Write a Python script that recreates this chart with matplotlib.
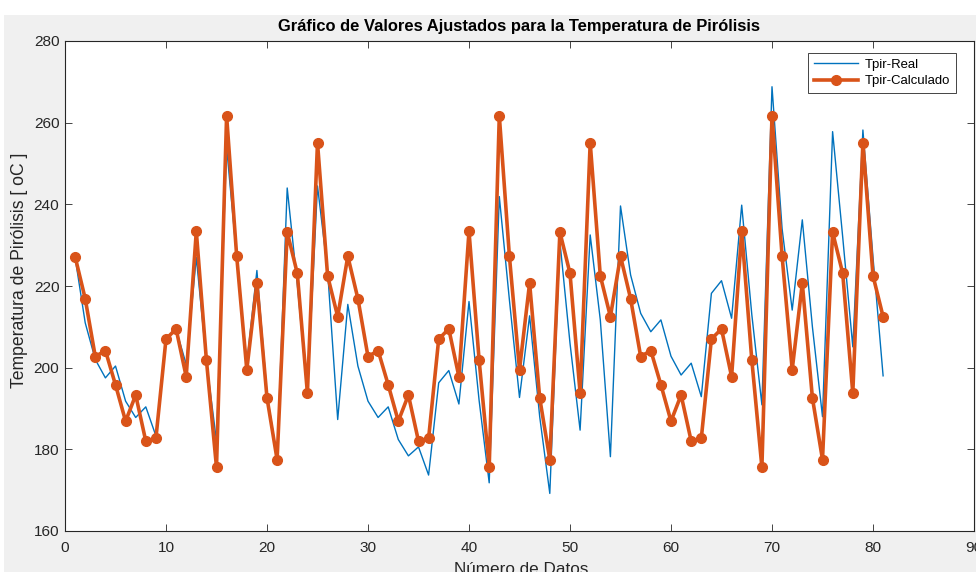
import matplotlib
matplotlib.use("Agg")
import matplotlib.pyplot as plt
from matplotlib.patches import Rectangle
from matplotlib import font_manager

_names = {f.name for f in font_manager.fontManager.ttflist}
if 'Liberation Sans Narrow' in _names:
    FAM = 'Liberation Sans Narrow'
    K = 1.0
else:
    FAM = 'Liberation Sans'
    K = 0.82
plt.rcParams['font.family'] = [FAM, 'DejaVu Sans']

datos = list(range(1, 82))

tpir_real = [227, 211, 202, 197.5, 200.4, 191.8, 187.8, 190.4, 183.3, 206.9,
             209.4, 200.8, 227, 201.6, 182, 254, 227, 201, 223.8, 193.5,
             178, 244, 220.4, 193.7, 244.5, 223.7, 187.3, 215.5, 200.4, 191.8,
             187.8, 190.4, 182.4, 178.4, 180.6, 173.7, 196.3, 199.3, 191.1, 216.2,
             192, 171.8, 241.9, 216.6, 192.7, 212.7, 188, 169.2, 230.9, 206,
             184.7, 232.5, 211.7, 178.2, 239.6, 222.7, 213.3, 208.8, 211.7, 202.8,
             198.2, 201.1, 192.9, 218.2, 221.3, 212.1, 239.8, 213, 190.9, 268.8,
             234, 214.1, 236.2, 210, 188, 257.8, 232, 205.1, 258.2, 227,
             198]

tpir_calc = [227.2, 216.9, 202.7, 204.2, 195.8, 186.9, 193.3, 182, 182.7, 207,
             209.5, 197.8, 233.4, 201.9, 175.6, 261.7, 227.3, 199.5, 220.7, 192.6,
             177.5, 233.2, 223.1, 193.8, 255.1, 222.5, 212.5, 227.3, 216.9, 202.7,
             204.2, 195.8, 186.9, 193.3, 182, 182.7, 207, 209.5, 197.8, 233.4,
             201.9, 175.6, 261.7, 227.3, 199.5, 220.7, 192.6, 177.5, 233.2, 223.1,
             193.8, 255.1, 222.5, 212.5, 227.3, 216.9, 202.7, 204.2, 195.8, 186.9,
             193.3, 182, 182.7, 207, 209.5, 197.8, 233.4, 201.9, 175.6, 261.7,
             227.3, 199.5, 220.7, 192.6, 177.5, 233.2, 223.1, 193.8, 255.1, 222.5,
             212.5]

xticks = [0, 10, 20, 30, 40, 50, 60, 70, 80, 90]
yticks = [160, 180, 200, 220, 240, 260, 280]

W, H = 976, 572
fig = plt.figure(figsize=(W / 100, H / 100), dpi=100)
fig.patch.set_facecolor('#f0f0f0')
fig.patches.append(Rectangle((0, 1 - 15 / H), 1, 15 / H, transform=fig.transFigure,
                             facecolor='white', edgecolor='none', zorder=-1))
fig.patches.append(Rectangle((0, 0), 4 / W, 1, transform=fig.transFigure,
                             facecolor='white', edgecolor='none', zorder=-1))

ax = fig.add_axes([65 / W, 1 - 531 / H, (974 - 65) / W, (531 - 41) / H])
ax.set_facecolor('white')

ax.plot(datos, tpir_real, color='#0072BD', lw=1.0, label='Tpir-Real')
ax.plot(datos, tpir_calc, color='#D95319', lw=2.6, marker='o', markersize=7,
        markerfacecolor='#D95319', markeredgecolor='#D95319', label='Tpir-Calculado')

ax.set_xlim(0, 90)
ax.set_ylim(160, 280)
ax.set_xticks(xticks)
ax.set_yticks(yticks)
ax.tick_params(direction='in', length=5, width=0.6, colors='#262626',
               labelsize=13.5 * K, top=True, right=True)
ax.tick_params(axis='x', pad=7)
ax.tick_params(axis='y', pad=4)
for s in ax.spines.values():
    s.set_color('#262626')
    s.set_linewidth(0.8)

fig.text(519.5 / W, 1 - 27 / H,
         'Gráfico de Valores Ajustados para la Temperatura de Pirólisis',
         fontsize=14.5 * K, fontweight='bold', color='black', ha='center', va='center')
fig.text(521 / W, 1 - 569 / H, 'Número de Datos', fontsize=15 * K,
         color='#262626', ha='center', va='center')
fig.text(20 / W, 1 - 270 / H, 'Temperatura de Pirólisis [ oC ]', fontsize=15.5 * K,
         color='#262626', ha='center', va='center', rotation=90)

leg = ax.legend(loc='upper right', fontsize=11.5 * K, frameon=True, fancybox=False,
                edgecolor='#262626', framealpha=1, borderpad=0.45,
                handlelength=3.4, labelspacing=0.3, handletextpad=0.5,
                bbox_to_anchor=(956 / W, 1 - 53 / H), bbox_transform=fig.transFigure,
                borderaxespad=0)
leg.get_frame().set_linewidth(0.6)

fig.savefig('out.png', dpi=100, facecolor=fig.get_facecolor())
